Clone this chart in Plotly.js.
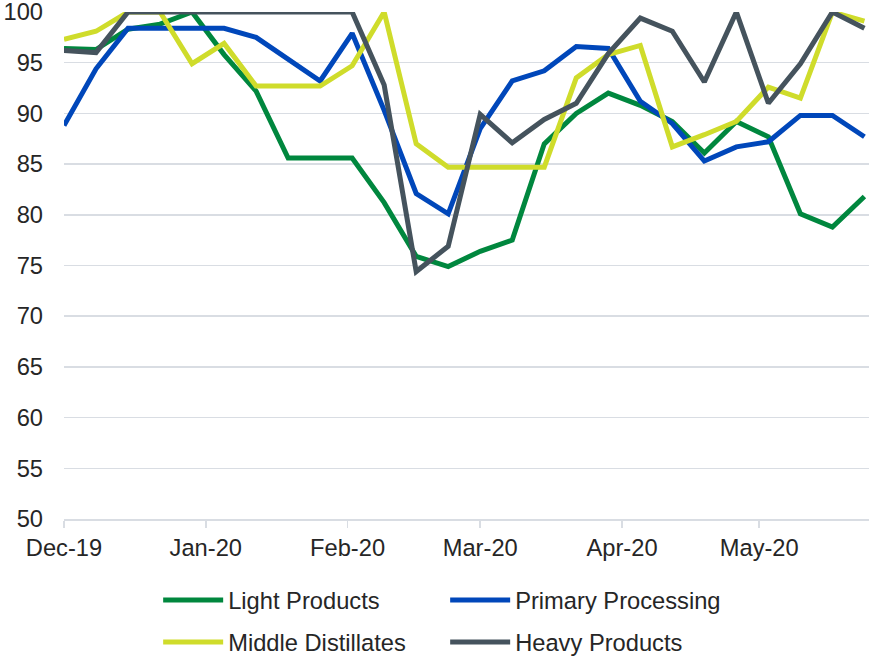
<!DOCTYPE html>
<html>
<head>
<meta charset="utf-8">
<script src="https://cdn.plot.ly/plotly-3.0.1.min.js"></script>
<style>
  html, body { margin: 0; padding: 0; background: #fff; }
  #chart { width: 869px; height: 660px; }
</style>
</head>
<body>
<div id="chart"></div>
<script>
// weekly observations, Dec 2019 - May 2020
var weeks = ['2019-12-01', '2019-12-08', '2019-12-15', '2019-12-22', '2019-12-29',
  '2020-01-05', '2020-01-12', '2020-01-19', '2020-01-26', '2020-02-02', '2020-02-09',
  '2020-02-16', '2020-02-23', '2020-03-01', '2020-03-08', '2020-03-15', '2020-03-22',
  '2020-03-29', '2020-04-05', '2020-04-12', '2020-04-19', '2020-04-26', '2020-05-03',
  '2020-05-10', '2020-05-17', '2020-05-24'];

var lightProducts = [96.4, 96.3, 98.3, 98.8, 100, 95.8, 92.2, 85.6, 85.6, 85.6, 81.2, 75.9, 74.9,
  76.4, 77.5, 87.0, 90.0, 92.0, 90.8, 89.2, 86.1, 89.2, 87.7, 80.1, 78.8, 81.8];
var primaryProcessing = [88.8, 94.4, 98.4, 98.4, 98.4, 98.4, 97.5, 95.3, 93.2, 97.9, 90.3, 82.1, 80.1,
  88.5, 93.2, 94.2, 96.6, 96.4, 91.2, 89.0, 85.3, 86.7, 87.2, 89.8, 89.8, 87.7];
var middleDistillates = [97.3, 98.1, 100, 100, 94.9, 96.9, 92.7, 92.7, 92.7, 94.7, 100, 87.0, 84.7,
  84.7, 84.7, 84.7, 93.5, 95.8, 96.7, 86.7, 87.9, 89.2, 92.6, 91.5, 100, 99.1];
var heavyProducts = [96.2, 96.0, 100, 100, 100, 100, 100, 100, 100, 100, 92.8, 74.4, 76.9,
  89.9, 87.1, 89.4, 91.0, 95.9, 99.4, 98.1, 93.1, 100, 91.0, 94.9, 100, 98.4];

var yTicks = [50, 55, 60, 65, 70, 75, 80, 85, 90, 95, 100];

function line(name, y, color, legend) {
  return {
    x: weeks, y: y, name: name, type: 'scatter', mode: 'lines',
    line: {color: color, width: 5, shape: 'linear'},
    legend: legend,
    hoverinfo: 'x+y+name'
  };
}

var data = [
  line('Light Products', lightProducts, '#00873e', 'legend'),
  line('Primary Processing', primaryProcessing, '#0047ba', 'legend'),
  line('Middle Distillates', middleDistillates, '#cfdc2b', 'legend2'),
  line('Heavy Products', heavyProducts, '#45535d', 'legend2')
];

var txt = '#262626';
var fsize = 23.7;
var legendBase = {
  orientation: 'h',
  xref: 'container', yref: 'container',
  x: 0.182, xanchor: 'left', yanchor: 'middle',
  entrywidth: 212, itemwidth: 60,
  font: {family: 'Liberation Sans, Arial, sans-serif', size: fsize, color: txt},
  bgcolor: 'rgba(0,0,0,0)', borderwidth: 0
};

var layout = {
  width: 869, height: 660,
  margin: {l: 64, r: 0, t: 12, b: 141},
  paper_bgcolor: '#fff', plot_bgcolor: '#fff',
  font: {family: 'Liberation Sans, Arial, sans-serif', size: fsize, color: txt},
  showlegend: true,
  legend: Object.assign({}, legendBase, {y: 1 - 600 / 660}),
  legend2: Object.assign({}, legendBase, {y: 1 - 642 / 660}),
  xaxis: {
    type: 'date',
    range: ['2019-12-01', '2020-05-25'],
    tick0: '2019-12-01', dtick: 'M1', tickformat: '%b-%y',
    ticks: 'outside', ticklen: 7, tickwidth: 1.5, tickcolor: '#d9dde3',
    showline: true, linecolor: '#d9dde3', linewidth: 1.5,
    showgrid: false, zeroline: false,
    tickfont: {size: fsize, color: txt}
  },
  yaxis: {
    range: [49.999, 100.001],
    tickvals: yTicks,
    ticks: '', ticklabelstandoff: 20,
    ticklabeloverflow: 'allow',
    showgrid: true, gridcolor: '#d9dde3', gridwidth: 1.5,
    zeroline: false, showline: false,
    tickfont: {size: fsize, color: txt}
  }
};

Plotly.newPlot('chart', data, layout, {displayModeBar: false, staticPlot: true});
</script>
</body>
</html>
